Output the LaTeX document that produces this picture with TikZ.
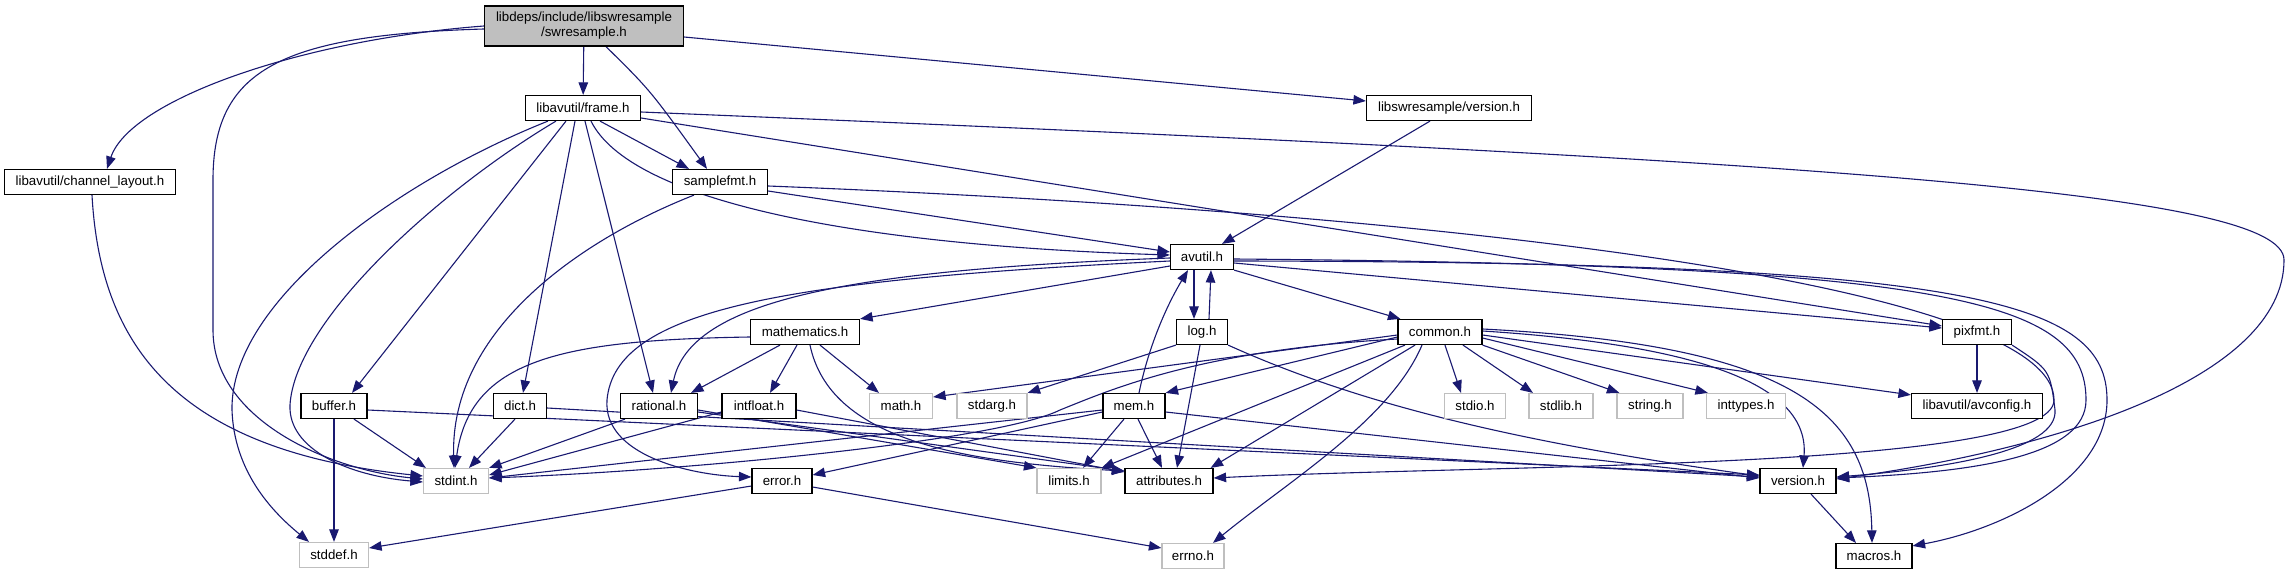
\documentclass[tikz,border=0pt]{standalone}
\usepackage{fontspec}
\setmainfont{Liberation Sans}
\usetikzlibrary{arrows.meta}
\pgfdeclarelayer{bg}
\pgfsetlayers{bg,main}
\definecolor{edgeblue}{HTML}{191970}
\definecolor{greybox}{HTML}{BFBFBF}

\begin{document}
\begin{tikzpicture}[x=1pt, y=-1pt,
    hdr/.style={draw=black, line width=1.2pt, fill=white, inner sep=0pt,
      minimum height=25pt, font=\fontsize{13.3}{15}\selectfont},
    syshdr/.style={hdr, draw=greybox},
    dep/.style={draw=edgeblue, line width=1.1pt, -{Triangle[length=12.5pt,width=9.5pt]}}]

  \useasboundingbox (0,0) rectangle (2288,575);

  % the file itself
  \node[hdr, fill=greybox, minimum width=199pt, minimum height=40pt, align=center]
    (sw) at (584,26) {libdeps/include/libswresample\\/swresample.h};

  % headers, row by row
  \node[hdr, minimum width=115pt] (frame) at (583,108) {libavutil/frame.h};
  \node[hdr, minimum width=165pt] (swver) at (1449,108) {libswresample/version.h};
  \node[hdr, minimum width=171pt] (chlay) at (90,182) {libavutil/channel\_layout.h};
  \node[hdr, minimum width=95pt] (sfmt) at (720,182) {samplefmt.h};
  \node[hdr, minimum width=63pt] (avutil) at (1202,257) {avutil.h};
  \node[hdr, minimum width=109pt] (mathem) at (805,332) {mathematics.h};
  \node[hdr, minimum width=51pt] (log) at (1202,332) {log.h};
  \node[hdr, minimum width=84pt] (common) at (1440,332) {common.h};
  \node[hdr, minimum width=69pt] (pixfmt) at (1977,332) {pixfmt.h};
  \node[hdr, minimum width=66pt] (buffer) at (334,406) {buffer.h};
  \node[hdr, minimum width=53pt] (dict) at (520,406) {dict.h};
  \node[hdr, minimum width=77pt] (rational) at (659,406) {rational.h};
  \node[hdr, minimum width=74pt] (intfloat) at (759,406) {intfloat.h};
  \node[syshdr, minimum width=63pt] (mathh) at (901,406) {math.h};
  \node[syshdr, minimum width=70pt] (stdarg) at (992,406) {stdarg.h};
  \node[hdr, minimum width=62pt] (mem) at (1134,406) {mem.h};
  \node[syshdr, minimum width=61pt] (stdio) at (1475,406) {stdio.h};
  \node[syshdr, minimum width=64pt] (stdlib) at (1561,406) {stdlib.h};
  \node[syshdr, minimum width=66pt] (string) at (1650,406) {string.h};
  \node[syshdr, minimum width=79pt] (inttypes) at (1746,406) {inttypes.h};
  \node[hdr, minimum width=131pt] (avconfig) at (1977,406) {libavutil/avconfig.h};
  \node[syshdr, minimum width=65pt] (stdint) at (456,481) {stdint.h};
  \node[hdr, minimum width=60pt] (error) at (782,481) {error.h};
  \node[syshdr, minimum width=64pt] (limits) at (1069,481) {limits.h};
  \node[hdr, minimum width=88pt] (attrib) at (1169,481) {attributes.h};
  \node[hdr, minimum width=76pt] (version) at (1798,481) {version.h};
  \node[syshdr, minimum width=69pt] (stddef) at (334,555) {stddef.h};
  \node[syshdr, minimum width=62pt] (errno) at (1193,556) {errno.h};
  \node[hdr, minimum width=76pt] (macros) at (1874,556) {macros.h};

  \begin{pgfonlayer}{bg}
  % swresample.h
  \draw[dep] (sw) -- (frame);
  \draw[dep] ([xshift=22pt]sw.south) .. controls (650,90) .. ([xshift=-13pt]sfmt.north);
  \draw[dep] (sw.west) .. controls (300,40) and (130,100) .. ([xshift=17pt]chlay.north);
  \draw[dep] ([yshift=-3pt]sw.west) .. controls (280,35) and (213,70) .. (213,180)
    -- (213,330) .. controls (213,420) and (330,470) .. ([yshift=2pt]stdint.west);
  \draw[dep] ([yshift=-11pt]sw.east) -- ([yshift=7pt]swver.west);
  \draw[dep] ([xshift=-19pt]swver.south) -- ([xshift=20pt]avutil.north);
  \draw[dep] ([xshift=2pt]chlay.south) .. controls (100,340) and (170,450) .. ([yshift=5pt]stdint.west);

  % frame.h
  \draw[dep] ([xshift=-35pt]frame.south) .. controls (400,180) and (230,300) .. (232,410)
    .. controls (234,470) and (270,510) .. ([xshift=-25pt]stddef.north);
  \draw[dep] ([xshift=-27pt]frame.south) .. controls (440,190) and (295,320) .. (290,405)
    .. controls (288,450) and (350,476) .. ([yshift=-1pt]stdint.west);
  \draw[dep] ([xshift=-17pt]frame.south) -- ([xshift=18pt]buffer.north);
  \draw[dep] ([xshift=-8pt]frame.south) -- ([xshift=3pt]dict.north);
  \draw[dep] ([xshift=2pt]frame.south) -- ([xshift=-6pt]rational.north);
  \draw[dep] ([xshift=8pt]frame.south) .. controls (630,200) and (850,245) .. ([yshift=2pt]avutil.west);
  \draw[dep] ([xshift=17pt]frame.south) -- ([xshift=-31pt]sfmt.north);
  \draw[dep] ([yshift=-10pt]frame.east) -- ([yshift=6pt]pixfmt.west);
  \draw[dep] ([yshift=-4pt]frame.east) .. controls (1800,160) and (2284,190) .. (2284,260)
    .. controls (2284,380) and (2050,450) .. ([yshift=2pt]version.east);

  % samplefmt.h
  \draw[dep] ([xshift=-26pt]sfmt.south) .. controls (580,240) and (450,330) .. ([xshift=-2pt]stdint.north);
  \draw[dep] ([yshift=-9pt]sfmt.east) -- ([yshift=5pt]avutil.west);
  \draw[dep] ([yshift=-4pt]sfmt.east) .. controls (1500,215) and (2054,290) .. (2054,400)
    .. controls (2054,470) and (1500,464) .. ([yshift=3pt]attrib.east);

  % avutil.h
  \draw[dep] ([xshift=-8pt]avutil.south) -- ([xshift=-8pt]log.north);
  \draw[dep] ([xshift=7pt]log.north) -- ([xshift=9pt]avutil.south);
  \draw[dep] ([yshift=-9pt]avutil.west) -- (mathem.north east);
  \draw[dep] (avutil.south east) -- ([xshift=3pt]common.north west);
  \draw[dep] ([yshift=-1pt]avutil.west) .. controls (850,270) and (690,300) .. ([xshift=12pt]rational.north);
  \draw[dep] ([yshift=-4pt]avutil.west) .. controls (780,280) and (615,310) .. (607,400)
    .. controls (603,455) and (690,475) .. ([yshift=4pt]error.west);
  \draw[dep] ([yshift=-6pt]avutil.east) -- ([yshift=4pt]pixfmt.west);
  \draw[dep] ([yshift=-2pt]avutil.east) .. controls (1950,265) and (2086,300) .. (2086,400)
    .. controls (2086,455) and (1980,472) .. ([yshift=3pt]version.east);
  \draw[dep] ([yshift=-4pt]avutil.east) .. controls (1970,262) and (2107,300) .. (2107,400)
    .. controls (2107,480) and (2000,530) .. ([yshift=-3pt]macros.north east);

  % mathematics.h
  \draw[dep] ([yshift=-5pt]mathem.west) .. controls (560,340) and (470,360) .. ([xshift=-1pt]stdint.north);
  \draw[dep] ([xshift=-25pt]mathem.south) -- ([xshift=32pt]rational.north);
  \draw[dep] ([xshift=-8pt]mathem.south) -- ([xshift=11pt]intfloat.north);
  \draw[dep] ([xshift=15pt]mathem.south) -- ([xshift=-22pt]mathh.north);
  \draw[dep] ([xshift=5pt]mathem.south) .. controls (830,440) and (960,462) .. ([yshift=10pt]attrib.west);

  % log.h
  \draw[dep] (log.south west) -- (stdarg.north east);
  \draw[dep] ([xshift=-2pt]log.south) -- ([xshift=8pt]attrib.north);
  \draw[dep] (log.south east) .. controls (1350,400) and (1500,440) .. ([yshift=5pt]version.west);

  % common.h
  \draw[dep] ([yshift=-3pt]common.west) -- ([yshift=9pt]mathh.east);
  \draw[dep] ([yshift=-5pt]common.west) -- (mem.north east);
  \draw[dep] ([yshift=-7pt]common.west) .. controls (1200,350) and (1110,390) .. (1060,410)
    .. controls (1000,440) and (700,470) .. ([yshift=3pt]stdint.east);
  \draw[dep] ([xshift=-35pt]common.south) -- (limits.north east);
  \draw[dep] ([xshift=-25pt]common.south) -- ([xshift=-3pt]attrib.north east);
  \draw[dep] ([xshift=-18pt]common.south) .. controls (1390,420) and (1290,480) .. ([xshift=20pt]errno.north);
  \draw[dep] ([xshift=5pt]common.south) -- ([xshift=-14pt]stdio.north);
  \draw[dep] ([xshift=23pt]common.south) -- ([xshift=-28pt]stdlib.north);
  \draw[dep] (common.south east) -- ([xshift=3pt]string.north west);
  \draw[dep] ([yshift=-6pt]common.east) -- ([xshift=2pt]inttypes.north west);
  \draw[dep] ([yshift=-3pt]common.east) -- ([yshift=-2pt]avconfig.north west);
  \draw[dep] ([yshift=1pt]common.east) .. controls (1700,345) and (1810,385) .. ([xshift=5pt]version.north);
  \draw[dep] ([yshift=3pt]common.east) .. controls (1790,345) and (1870,410) .. ([xshift=-2pt]macros.north);

  % pixfmt.h
  \draw[dep] (pixfmt) -- (avconfig);
  \draw[dep] (pixfmt.south east) .. controls (2050,370) .. (2055,410)
    .. controls (2058,450) and (1950,468) .. ([yshift=4pt]version.east);

  % the rest
  \draw[dep] (buffer) -- (stddef);
  \draw[dep] ([xshift=20pt]buffer.south) -- ([xshift=3pt]stdint.north west);
  \draw[dep] ([yshift=-4pt]buffer.east) -- ([yshift=6pt]version.west);
  \draw[dep] ([xshift=-5pt]dict.south) -- ([xshift=13pt]stdint.north);
  \draw[dep] ([yshift=-2pt]dict.east) -- ([yshift=4pt]version.west);
  \draw[dep] ([xshift=-34pt]rational.south) -- (stdint.north east);
  \draw[dep] ([yshift=-4pt]rational.east) -- (limits.north west);
  \draw[dep] ([yshift=-6pt]rational.east) -- ([yshift=10pt]attrib.west);
  \draw[dep] ([yshift=-6pt]intfloat.west) -- ([yshift=6pt]stdint.east);
  \draw[dep] ([yshift=-4pt]intfloat.east) -- ([yshift=9pt]attrib.west);
  \draw[dep] ([yshift=-4pt]mem.west) -- ([yshift=3pt]stdint.east);
  \draw[dep] ([yshift=-6pt]mem.west) -- ([yshift=6pt]error.east);
  \draw[dep] ([xshift=-10pt]mem.south) -- ([xshift=14pt]limits.north);
  \draw[dep] ([xshift=4pt]mem.south) -- ([xshift=-7pt]attrib.north);
  \draw[dep] ([xshift=5pt]mem.north) .. controls (1150,340) and (1170,300) .. ([xshift=-14pt]avutil.south);
  \draw[dep] ([yshift=-6pt]mem.east) -- ([yshift=3pt]version.west);
  \draw[dep] ([yshift=-5pt]error.west) -- ([yshift=7pt]stddef.east);
  \draw[dep] ([yshift=-6pt]error.east) -- ([yshift=8pt]errno.west);
  \draw[dep] ([xshift=13pt]version.south) -- ([xshift=-18pt]macros.north);
  \end{pgfonlayer}
\end{tikzpicture}
\end{document}
